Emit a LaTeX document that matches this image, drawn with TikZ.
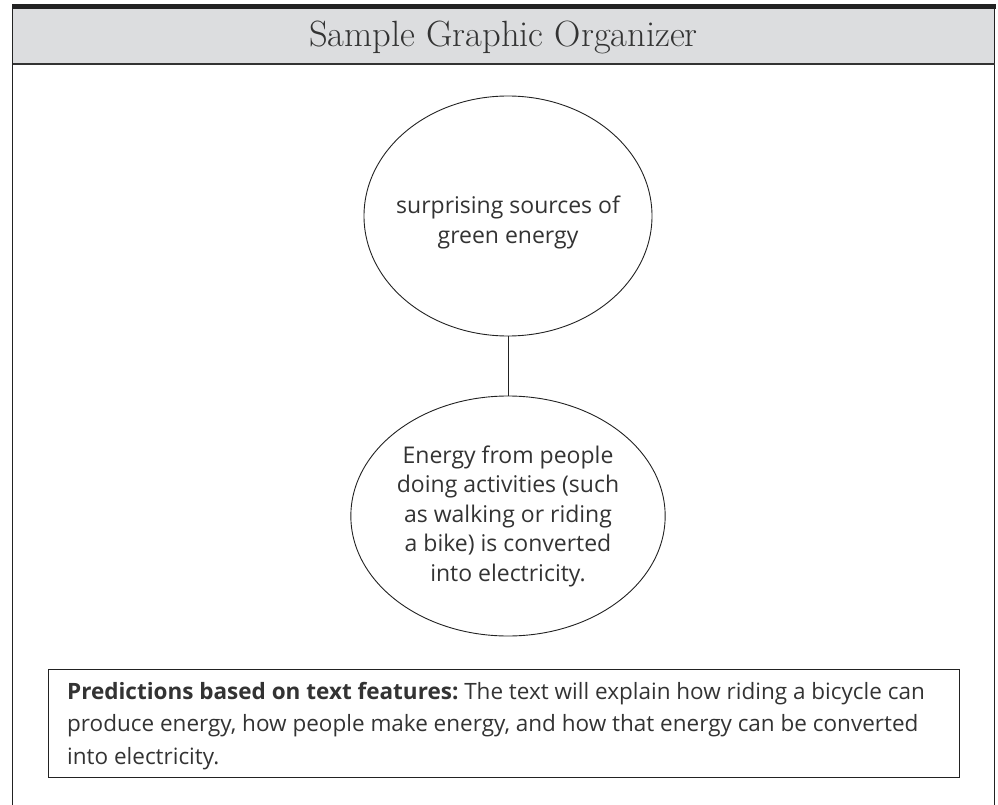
\documentclass[tikz,border=0pt]{standalone}
\usepackage{fontspec}
\usetikzlibrary{shapes.geometric}
\newfontfamily\handfont{Open Sans}
\definecolor{headgray}{HTML}{DCDDDF}
\definecolor{inkdark}{HTML}{222222}
\definecolor{textgray}{HTML}{333333}
\begin{document}
\begin{tikzpicture}[x=1pt,y=-1pt,
  bubble/.style={ellipse,draw=inkdark,line width=0.9pt,minimum width=288pt,minimum height=240pt,inner sep=0pt,
    align=center,text=textgray,font=\handfont\fontsize{23}{29.5}\selectfont},
  bubbletext/.style={align=center,text=textgray,inner sep=0pt,font=\handfont\fontsize{23}{30}\selectfont},
  predbox/.style={draw=inkdark,line width=1pt,minimum width=911pt,minimum height=108pt,inner sep=0pt},
  predtext/.style={align=left,inner sep=0pt,text=textgray,font=\handfont\fontsize{22.5}{32.5}\selectfont\frenchspacing},
  frameline/.style={draw=inkdark,line width=1.3pt}]
\useasboundingbox (0,0) rectangle (998,805);
% header
\fill[headgray] (12.5,9) rectangle (994.5,64);
\fill[inkdark] (12,4) rectangle (996,9.5);
\draw[frameline] (12.5,9) -- (12.5,805);
\draw[frameline] (994.5,9) -- (994.5,805);
\draw[draw=textgray,line width=1.5pt] (12.5,64) -- (994.5,64);
\node[text=textgray,font=\fontsize{36.5}{40}\selectfont] (title) at (503.5,37) {Sample Graphic Organizer};
% bubbles
\node[bubble] (topic) at (508,216) {};
\node[bubbletext] (topictext) at ([yshift=-6pt]topic.center) {surprising sources of\\green energy};
\node[bubble] (detail) at (508,516) {Energy from people\\doing activities (such\\as walking or riding\\a bike) is converted\\into electricity.};
\draw[draw=inkdark,line width=0.9pt] (topic.south) -- (detail.north);
% predictions box
\node[predbox] (pred) at (503.5,723) {};
\node[predtext,anchor=west] (predtext) at (67,726) {{\bfseries Predictions based on text features:} The text will explain how riding a bicycle can\\produce energy, how people make energy, and how that energy can be converted\\into electricity.};
\end{tikzpicture}
\end{document}
